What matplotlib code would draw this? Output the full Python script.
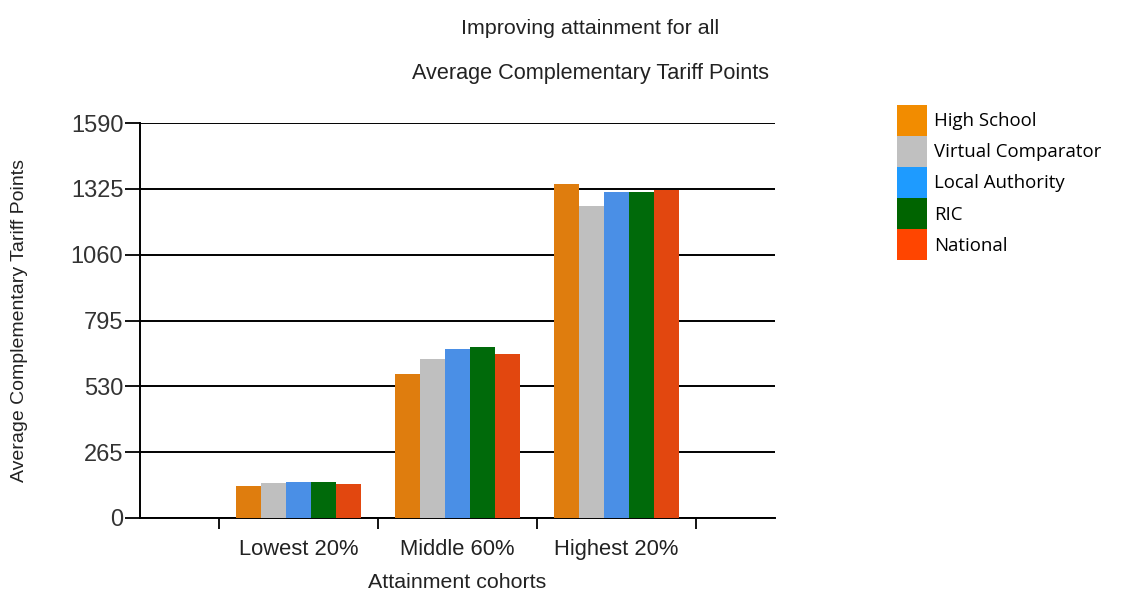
import matplotlib.pyplot as plt
import numpy as np
from matplotlib.patches import Patch

cohorts = ["Lowest 20%", "Middle 60%", "Highest 20%"]
series = ["High School", "Virtual Comparator", "Local Authority", "RIC", "National"]
high_school = [129, 580, 1343]
virtual_comparator = [140, 640, 1256]
local_authority = [146, 680, 1311]
ric = [146, 688, 1313]
national = [138, 660, 1320]
yticks = [0, 265, 530, 795, 1060, 1325, 1590]

bar_colors = ["#DF7D0E", "#BFBFBF", "#4A8FE6", "#006A0A", "#E2470F"]
legend_colors = ["#F28C00", "#C0C0C0", "#1E9BFF", "#006400", "#FF4500"]

plt.rcParams['font.family'] = ['Liberation Sans', 'DejaVu Sans']
txt = "#222222"

fig = plt.figure(figsize=(11.31, 5.92), dpi=100)
ax = fig.add_axes([140 / 1131, 1 - 518 / 592, 635 / 1131, 395 / 592])

values = [high_school, virtual_comparator, local_authority, ric, national]
x = np.arange(1, len(cohorts) + 1)
w = 0.158
for i, (vals, c) in enumerate(zip(values, bar_colors)):
    ax.bar(x + (i - 2) * w, vals, width=w, color=c, zorder=3, linewidth=0)

ax.set_xlim(0, 4)
ax.set_ylim(0, 1590)
ax.set_yticks(yticks)
ax.set_yticklabels([str(v) for v in yticks], fontsize=17, color="#333333")
ax.yaxis.grid(True, color="black", linewidth=1.4, zorder=0)
ax.set_axisbelow(True)

ax.set_xticks(x)
ax.set_xticklabels(cohorts, fontsize=15.8, color=txt)
ax.tick_params(axis="x", which="major", length=0, pad=15)
ax.set_xticks([0.5, 1.5, 2.5, 3.5], minor=True)
ax.tick_params(axis="x", which="minor", length=8, width=1.3, color="black")
ax.tick_params(axis="y", length=11, width=1.3, color="black", pad=1)

for s in ["top", "right"]:
    ax.spines[s].set_visible(False)
for s in ["left", "bottom"]:
    ax.spines[s].set_linewidth(1.4)

ax.set_xlabel("Attainment cohorts", fontsize=15.4, color=txt)
ax.set_ylabel("Average Complementary Tariff Points", fontsize=14, color=txt)
ax.xaxis.set_label_coords(0.5, (518 - 583) / 395)
ax.yaxis.set_label_coords((20 - 140) / 635, 0.5)
ax.xaxis.label.set_va("center")
ax.yaxis.label.set_va("center")

fig.text(590 / 1131, 1 - 28 / 592, "Improving attainment for all", ha="center", va="center",
         fontsize=15.4, color=txt)
fig.text(591 / 1131, 1 - 73 / 592, "Average Complementary Tariff Points", ha="center", va="center",
         fontsize=15.6, color=txt)

handles = [Patch(facecolor=c, edgecolor="none") for c in legend_colors]
fig.legend(handles, series, loc="upper left", bbox_to_anchor=(897 / 1131, 1 - 105 / 592),
           frameon=False, handlelength=1.6, handleheight=2.19,
           handletextpad=0.38, labelspacing=0.0, borderaxespad=0, borderpad=0,
           prop={"family": ["Open Sans", "DejaVu Sans"], "size": 13.4})

fig.savefig("out.png", dpi=100)
